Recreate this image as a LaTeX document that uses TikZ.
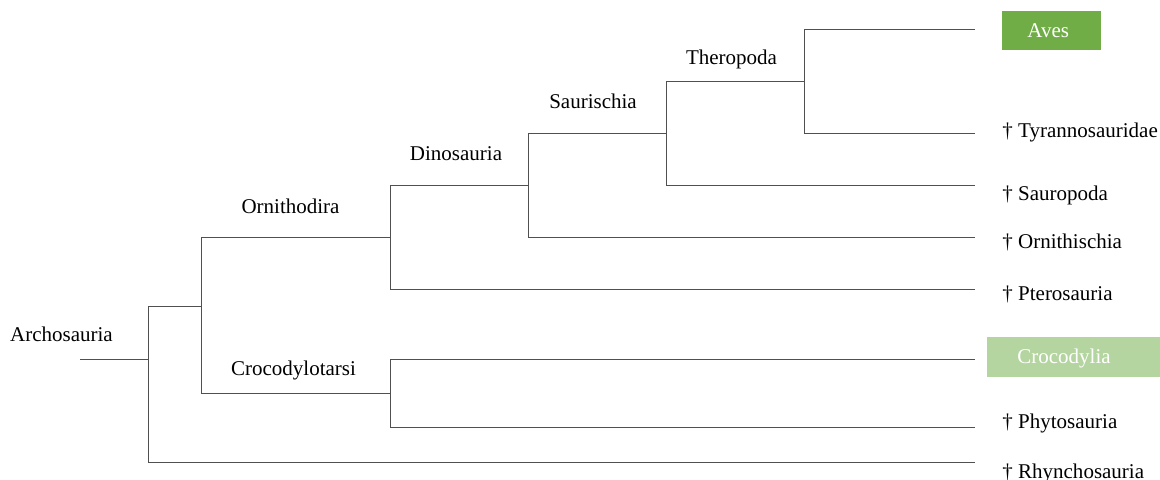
\documentclass[tikz,border=0pt]{standalone}
\usepackage{fontspec}
\setmainfont{Liberation Serif}
\usepackage{xcolor}
\usetikzlibrary{calc, positioning}
\definecolor{branchgray}{HTML}{505050}
\definecolor{avesgreen}{HTML}{70AD47}
\definecolor{crocgreen}{HTML}{B4D5A0}

\begin{document}
\begin{tikzpicture}[x=0.5pt, y=-0.5pt,
    branch/.style={draw=branchgray, line width=0.5pt},
    clade/.style={anchor=base, inner sep=0pt, font=\fontsize{10.5}{12.6}\selectfont},
    taxon/.style={anchor=base west, inner sep=0pt, font=\fontsize{10.5}{12.6}\selectfont},
    livebox/.style={fill=#1, inner sep=0pt}]
    \useasboundingbox (0,0) rectangle (1160,480);

    % Inner nodes
    \coordinate (root) at (80,359);
    \coordinate (archo) at (148,359);
    \coordinate (split) at (201,307);
    \coordinate (ornitho) at (390,238);
    \coordinate (crurot) at (390,393);
    \coordinate (dino) at (528,186);
    \coordinate (sauri) at (666,134);
    \coordinate (thero) at (804,82);

    % Leaf ends
    \coordinate (aves-end) at (975,30);
    \coordinate (tyr-end) at (975,134);
    \coordinate (sauro-end) at (975,186);
    \coordinate (ornis-end) at (975,238);
    \coordinate (ptero-end) at (975,290);
    \coordinate (croc-end) at (975,359);
    \coordinate (phyto-end) at (975,427);
    \coordinate (rhyn-end) at (975,462);

    % Branches
    \draw[branch] (root) -- (archo);
    \draw[branch] (archo) |- (split);
    \draw[branch] (archo) |- (rhyn-end);
    \draw[branch] (split) |- (ornitho);
    \draw[branch] (split) |- (crurot);
    \draw[branch] (ornitho) |- (dino);
    \draw[branch] (ornitho) |- (ptero-end);
    \draw[branch] (dino) |- (sauri);
    \draw[branch] (dino) |- (ornis-end);
    \draw[branch] (sauri) |- (thero);
    \draw[branch] (sauri) |- (sauro-end);
    \draw[branch] (thero) |- (aves-end);
    \draw[branch] (thero) |- (tyr-end);
    \draw[branch] (crurot) |- (croc-end);
    \draw[branch] (crurot) |- (phyto-end);

    % Clade labels
    \node[clade] (l-archo) at (61.5,342) {Archosauria};
    \node[clade] (l-ornitho) at (290.5,214) {Ornithodira};
    \node[clade] (l-crurot) at (293.5,375) {Crocodylotarsi};
    \node[clade] (l-dino) at (456,161) {Dinosauria};
    \node[clade] (l-sauri) at (593,109) {Saurischia};
    \node[clade] (l-thero) at (731.5,65) {Theropoda};

    % Living groups
    \node[livebox=avesgreen, minimum width=49.5pt, minimum height=19.5pt] (aves-box) at (1051.5,30.5) {};
    \node[taxon, text=white] (aves) at (1027,38) {Aves};
    \node[livebox=crocgreen, minimum width=86.5pt, minimum height=20pt] (croc-box) at (1073.5,357) {};
    \node[taxon, text=white] (croc) at (1017,363) {Crocodylia};

    % Extinct groups
    \node[taxon] (tyr) at (1002,138) {† Tyrannosauridae};
    \node[taxon] (sauro) at (1002,201) {† Sauropoda};
    \node[taxon] (ornis) at (1002,249) {† Ornithischia};
    \node[taxon] (ptero) at (1002,300) {† Pterosauria};
    \node[taxon] (phyto) at (1002,428) {† Phytosauria};
    \node[taxon] (rhyn) at (1002,478) {† Rhynchosauria};
\end{tikzpicture}
\end{document}
